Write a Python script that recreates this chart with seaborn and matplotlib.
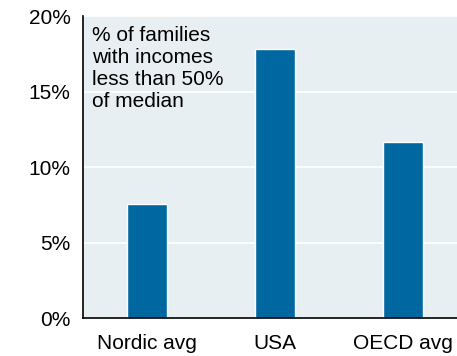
import pandas as pd
import numpy as np
import matplotlib.pyplot as plt
import seaborn as sns
from matplotlib.ticker import FuncFormatter

# Chart data
regions = ['Nordic avg', 'USA', 'OECD avg']
poverty_share = [7.55, 17.83, 11.66]
y_ticks = [0, 5, 10, 15, 20]

df = pd.DataFrame({'region': regions, 'share': poverty_share})

sns.set_style('white', {'axes.facecolor': '#E8EFF3'})
plt.rcParams['font.family'] = ['Liberation Sans', 'DejaVu Sans']
plt.rcParams['text.color'] = 'black'
plt.rcParams['xtick.color'] = 'black'
plt.rcParams['ytick.color'] = 'black'

fs = 15

fig = plt.figure(figsize=(4.57, 3.56), dpi=100)
ax = fig.add_axes([0.1816, 0.106, 0.8184, 0.8477])

sns.barplot(data=df, x='region', y='share', color='#0067A0', saturation=1,
            width=0.31, ax=ax)

ax.set_ylim(0, 20)
ax.set_xlim(-0.5, 2.42)
ax.set_yticks(y_ticks)
ax.yaxis.set_major_formatter(FuncFormatter(lambda v, p: f'{v:.0f}%'))
ax.grid(axis='y', color='white', linewidth=1.2)
ax.set_axisbelow(True)

# category labels centred, tick marks between categories
ax.set_xticks(range(len(regions)))
ax.set_xticklabels(regions)
ax.tick_params(axis='x', length=0, labelsize=fs, labelcolor='black', pad=11)
ax.set_xticks([-0.5, 0.5, 1.5], minor=True)
ax.tick_params(axis='x', which='minor', length=5, width=1, color='black', direction='out')
ax.tick_params(axis='y', length=5, width=1, color='black', direction='out',
               labelsize=fs, labelcolor='black', pad=4)

for s in ['top', 'right']:
    ax.spines[s].set_visible(False)
for s in ['left', 'bottom']:
    ax.spines[s].set_color('black')
    ax.spines[s].set_linewidth(1.2)

ax.set_xlabel('')
ax.set_ylabel('')

ax.text(0.025, 0.97, '% of families\nwith incomes\nless than 50%\nof median',
        transform=ax.transAxes, ha='left', va='top', fontsize=fs, linespacing=1.22,
        color='black')

fig.savefig('out.png', dpi=100)
